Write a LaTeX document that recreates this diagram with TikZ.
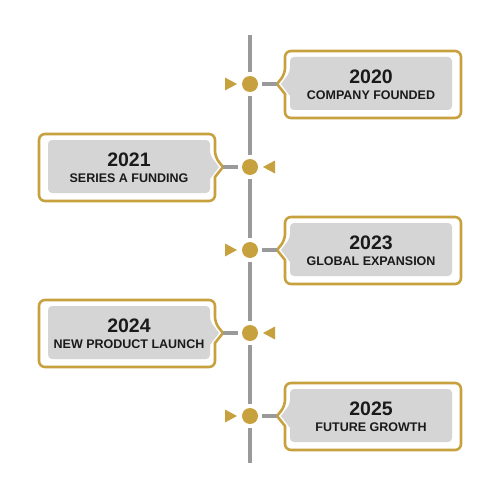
\documentclass[tikz,border=0pt]{standalone}
\usepackage{fontspec}
\setmainfont{Liberation Sans}
\definecolor{gold}{HTML}{C8A13F}
\definecolor{panel}{HTML}{D5D5D5}
\definecolor{axisgray}{HTML}{9A9A9A}
\definecolor{ink}{HTML}{1A1A1A}
\tikzset{
  dot/.style={circle, fill=gold, minimum size=16pt, inner sep=0pt},
  axisline/.style={axisgray, line width=3.2pt},
  goldframe/.style={draw=gold, fill=white, line width=2.6pt, line join=round},
  yearlabel/.style={inner sep=0pt, text=ink, font=\fontsize{19.5}{20}\selectfont\bfseries},
  textlabel/.style={inner sep=0pt, text=ink, font=\fontsize{12.5}{13}\selectfont\bfseries}
}
\begin{document}
\begin{tikzpicture}[x=1pt, y=-1pt]
  \useasboundingbox (0,0) rectangle (500,500);
  % milestones
  \foreach \cy/\side/\yr/\txt [count=\i] in {84/1/2020/COMPANY FOUNDED,
      167/-1/2021/SERIES A FUNDING, 250/1/2023/GLOBAL EXPANSION,
      333/-1/2024/NEW PRODUCT LAUNCH, 416/1/2025/FUTURE GROWTH} {
    \node[dot] (dot\i) at (250,\cy) {};
    \coordinate (tip\i) at ({250+27*\side},\cy);
    % frame with pointer
    \draw[goldframe, rounded corners=6pt] ({250+120*\side},{\cy-33}) -- ({250+35*\side},{\cy-33})
      -- ({250+35*\side},{\cy-10}) [sharp corners] -- (tip\i) -- ({250+35*\side},{\cy+10})
      [rounded corners=6pt] -- ({250+35*\side},{\cy+34}) -- ({250+211*\side},{\cy+34})
      -- ({250+211*\side},{\cy-33}) -- cycle;
    \fill[panel, rounded corners=4pt] ({250+120*\side},{\cy-27}) -- ({250+40*\side},{\cy-27})
      -- ({250+40*\side},{\cy-12}) [sharp corners] -- ({250+31*\side},\cy) -- ({250+40*\side},{\cy+12})
      [rounded corners=4pt] -- ({250+40*\side},{\cy+26}) -- ({250+202*\side},{\cy+26})
      -- ({250+202*\side},{\cy-27}) -- cycle;
    % marker on the other side
    \fill[gold] ({250-25*\side},{\cy-6.5}) -- ({250-13*\side},\cy) -- ({250-25*\side},{\cy+6.5}) -- cycle;
    \draw[axisline, shorten <=4pt] (dot\i) -- (tip\i);
    % texts
    \node[yearlabel] (year\i) at ({250+121*\side},{\cy-7}) {\yr};
    \node[textlabel] (label\i) at ({250+121*\side},{\cy+11.5}) {\txt};
  }
  % axis
  \coordinate (top) at (250,35);
  \coordinate (bottom) at (250,463);
  \draw[axisline, shorten >=4pt] (top) -- (dot1);
  \foreach \a/\b in {1/2,2/3,3/4,4/5}
    \draw[axisline, shorten >=4pt, shorten <=4pt] (dot\a) -- (dot\b);
  \draw[axisline, shorten <=4pt] (dot5) -- (bottom);
\end{tikzpicture}
\end{document}
